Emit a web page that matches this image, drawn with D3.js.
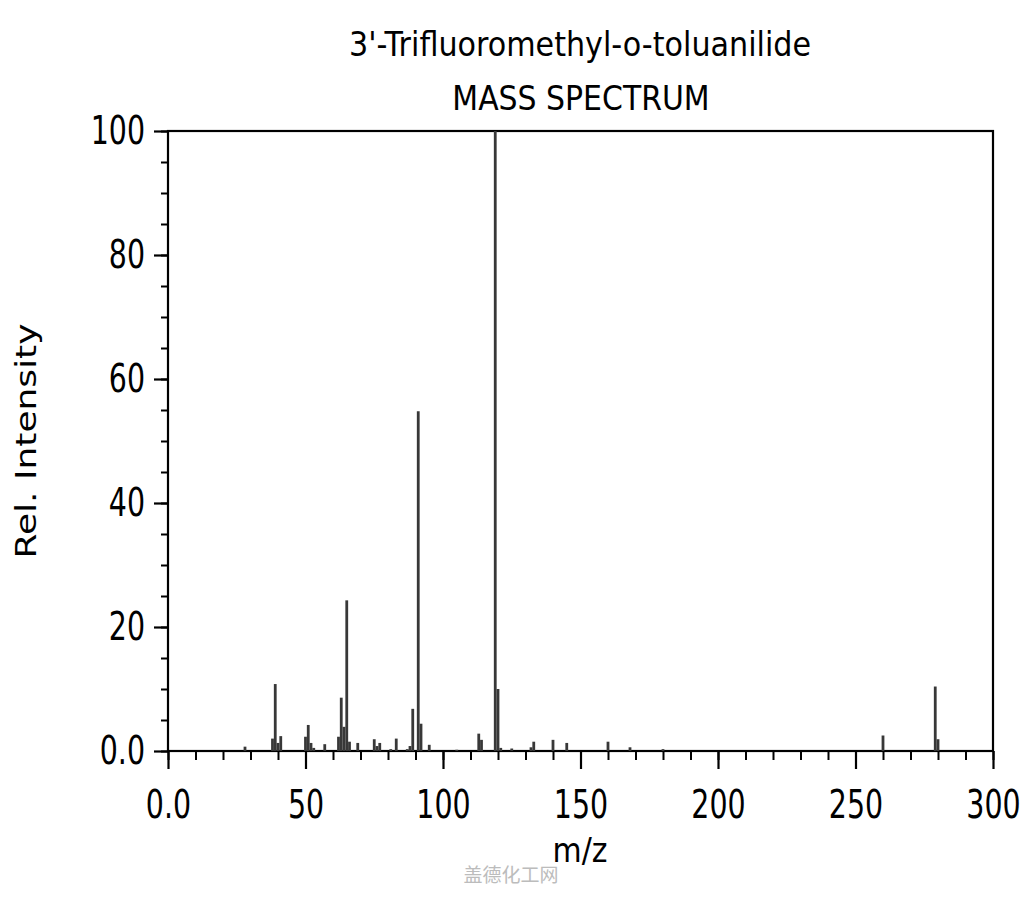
<!DOCTYPE html>
<html>
<head>
<meta charset="utf-8">
<script src="https://cdn.jsdelivr.net/npm/d3@7"></script>
<style>
  body { margin: 0; background: #fff; }
  svg { display: block; }
  text { font-family: "DejaVu Sans", sans-serif; fill: #000; }
</style>
</head>
<body>
<svg id="chart" width="1024" height="900"></svg>
<script>
// peak list (m/z, relative intensity)
let mzValues  = [28, 38, 39, 40, 41, 50, 51, 52, 53, 57, 62, 63, 64, 65, 66, 69, 75, 76, 77, 81, 83, 87, 88, 89, 91, 92, 95, 105, 113, 114, 119, 120, 121, 125, 132, 133, 140, 145, 160, 168, 180, 260, 279, 280];
let intensity = [0.7, 2.0, 10.8, 1.3, 2.4, 2.3, 4.2, 1.3, 0.5, 1.1, 2.3, 8.6, 3.9, 24.3, 1.5, 1.3, 1.9, 0.8, 1.3, 0.3, 2.0, 0.3, 0.8, 6.8, 54.8, 4.4, 1.0, 0.2, 2.8, 1.8, 100, 10.0, 0.5, 0.4, 0.6, 1.5, 1.8, 1.3, 1.5, 0.6, 0.3, 2.5, 10.4, 1.9];

let xMajor = [0, 50, 100, 150, 200, 250, 300];
let yMajor = [0, 20, 40, 60, 80, 100];
let titleLines = ["3'-Trifluoromethyl-o-toluanilide", "MASS SPECTRUM"];
let xLabel = "m/z";
let yLabel = "Rel. Intensity";
let watermark = "盖德化工网";

let peaks = mzValues.map((m, i) => ({mz: m, v: intensity[i]}));

let svg = d3.select('#chart');
let plot = {left: 168, right: 993, top: 131, bottom: 751};

let x = d3.scaleLinear().domain([0, 300]).range([plot.left, plot.right]);
let y = d3.scaleLinear().domain([0, 100]).range([plot.bottom, plot.top]);

// the source picture is squeezed sideways, so text gets a horizontal scale
let tickSx = 0.73;
let tickFmt = d => d === 0 ? "0.0" : String(d);

// minor ticks first, majors on top
svg.append('g')
    .attr('transform', `translate(${plot.left},0)`)
    .call(d3.axisLeft(y).tickValues(d3.range(0, 101, 5)).tickSize(7).tickFormat(''))
    .call(g => g.select('.domain').remove())
    .call(g => g.selectAll('line').attr('stroke', '#000').attr('stroke-width', 2));

svg.append('g')
    .attr('transform', `translate(0,${plot.bottom})`)
    .call(d3.axisBottom(x).tickValues(d3.range(0, 301, 10)).tickSize(9).tickFormat(''))
    .call(g => g.select('.domain').remove())
    .call(g => g.selectAll('line').attr('stroke', '#000').attr('stroke-width', 2));

let yAxis = svg.append('g')
    .attr('transform', `translate(${plot.left},0)`)
    .call(d3.axisLeft(y).tickValues(yMajor).tickSize(14).tickPadding(9).tickFormat(tickFmt));
yAxis.select('.domain').remove();
yAxis.selectAll('line').attr('stroke', '#000').attr('stroke-width', 2.2);
yAxis.selectAll('text')
    .style('font-family', '"DejaVu Sans", sans-serif')
    .attr('font-size', 39)
    .attr('fill', '#000')
    .attr('x', -23 / tickSx)
    .attr('transform', `scale(${tickSx},1)`);

let xAxis = svg.append('g')
    .attr('transform', `translate(0,${plot.bottom})`)
    .call(d3.axisBottom(x).tickValues(xMajor).tickSize(18).tickPadding(21).tickFormat(tickFmt));
xAxis.select('.domain').remove();
xAxis.selectAll('line').attr('stroke', '#000').attr('stroke-width', 2.2);
xAxis.selectAll('text')
    .style('font-family', '"DejaVu Sans", sans-serif')
    .attr('font-size', 39)
    .attr('fill', '#000')
    .attr('transform', `scale(${tickSx},1)`);

// frame
svg.append('rect')
    .attr('x', plot.left).attr('y', plot.top)
    .attr('width', plot.right - plot.left).attr('height', plot.bottom - plot.top)
    .attr('fill', 'none').attr('stroke', '#000').attr('stroke-width', 2.2);

// stick spectrum
svg.append('g')
    .attr('class', 'peaks')
    .selectAll('line')
    .data(peaks)
    .enter()
    .append('line')
        .attr('x1', d => x(d.mz)).attr('x2', d => x(d.mz))
        .attr('y1', y(0)).attr('y2', d => y(d.v))
        .attr('stroke', '#383838')
        .attr('stroke-width', 2.8);

// squeezed text helper
let label = function(txt, px, py, size, sx, rotate) {
    let g = svg.append('g')
        .attr('transform', `translate(${px},${py}) scale(${sx},1)` + (rotate ? ` rotate(${rotate})` : ''));
    return g.append('text')
        .attr('text-anchor', 'middle')
        .attr('font-size', size)
        .text(txt);
};

label(titleLines[0], 580, 56, 33, 0.915);
label(titleLines[1], 581, 110, 34, 0.88);
label(xLabel, 580, 862, 34, 0.88);
label(yLabel, 36, 441, 36, 0.78, -90);

svg.append('text')
    .attr('x', 511).attr('y', 882)
    .attr('text-anchor', 'middle')
    .attr('font-size', 19)
    .style('font-family', '"Noto Sans CJK SC", sans-serif')
    .style('fill', '#bcbcbc')
    .text(watermark);
</script>
</body>
</html>
